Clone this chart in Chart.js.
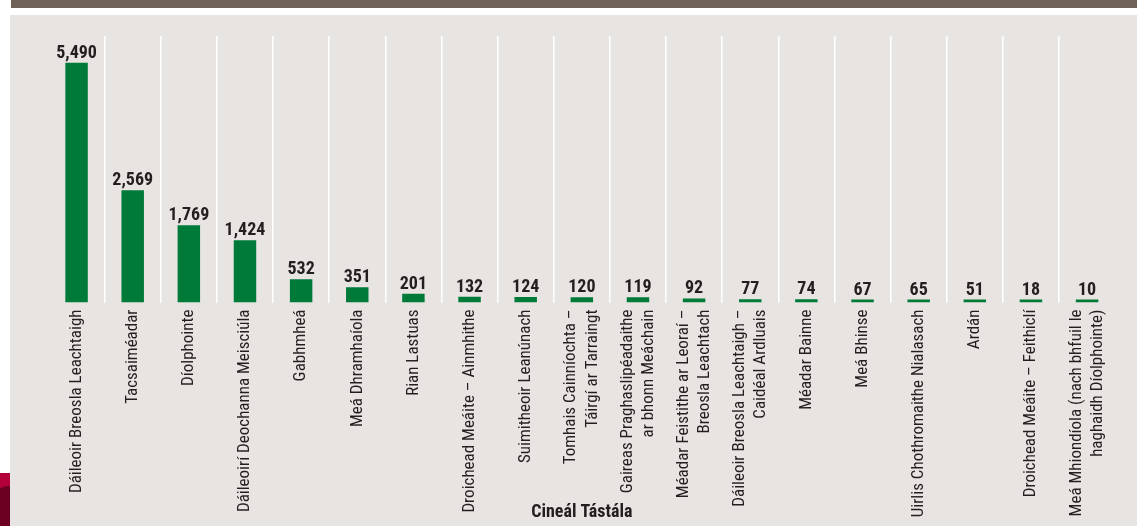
<!DOCTYPE html>
<html>
<head>
<meta charset="utf-8">
<script src="https://cdn.jsdelivr.net/npm/chart.js@4"></script>
<style>
  html, body { margin: 0; padding: 0; background: #fff; }
  body { width: 1137px; height: 526px; position: relative; overflow: hidden; }
  #band { position: absolute; left: 11px; top: 0; width: 1126px; height: 8px; background: #6f6157; }
  #panel { position: absolute; left: 10px; top: 15px; width: 1127px; height: 511px; background: #e8e4e1; }
  #red1 { position: absolute; left: 0; top: 473px; width: 10px; height: 53px; background: #b3003a; }
  #red2 { position: absolute; left: 0; top: 486px; width: 10px; height: 40px; background: #6b0022; border-top-left-radius: 12px 4px; }
  #chart { position: absolute; left: 10px; top: 15px; }
</style>
</head>
<body>
<div id="band"></div>
<div id="red1"></div>
<div id="red2"></div>
<div id="panel"></div>
<canvas id="chart" width="1127" height="511"></canvas>
<script>
// categories (test types) and counts
const categories = [
    'Dáileoir Breosla Leachtaigh',
    'Tacsaiméadar',
    'Díolphointe',
    'Dáileoirí Deochanna Meisciúla',
    'Gabhmheá',
    'Meá Dhramhaíola',
    'Rian Lastuas',
    'Droichead Meáite – Ainmhithe',
    'Suimitheoir Leanúnach',
    ['Tomhais Cainníochta –', 'Táirgí ar Tarraingt'],
    ['Gaireas Praghaslipéadaithe', 'ar bhonn Meáchain'],
    ['Méadar Feistithe ar Leoraí –', 'Breosla Leachtach'],
    ['Dáileoir Breosla Leachtaigh –', 'Caidéal Ardluais'],
    'Méadar Bainne',
    'Meá Bhinse',
    'Uirlis Chothromaithe Nialasach',
    'Ardán',
    'Droichead Meáite – Feithiclí',
    ['Meá Mhiondíola (nach bhfuil le', 'haghaidh Díolphointe)']
];
const values = [5490, 2569, 1769, 1424, 532, 351, 201, 132, 124, 120, 119, 92, 77, 74, 67, 65, 51, 18, 10];
const axisTitle = 'Cineál Tástála';

const FONT = '"Liberation Sans Narrow", "Arial Narrow", "Roboto Condensed", "Open Sans", sans-serif';
const TEXT = '#231f20';
const tickFont = { family: FONT, size: 17, lineHeight: 1.25 };

// centre multi-line rotated tick labels on their bar
const centreLabels = {
    id: 'centreLabels',
    beforeDraw(chart) {
        const sc = chart.scales.x;
        const lh = tickFont.size * tickFont.lineHeight;
        sc.getLabelItems().forEach(it => {
            if (Array.isArray(it.label) && !it._moved) {
                it.options.translation[0] -= (it.label.length - 1) * lh / 2;
                it._moved = true;
            }
        });
    }
};

// value labels above bars
const valueLabels = {
    id: 'valueLabels',
    afterDatasetsDraw(chart) {
        const ctx = chart.ctx;
        const meta = chart.getDatasetMeta(0);
        ctx.save();
        ctx.font = 'bold 18px ' + FONT;
        ctx.fillStyle = TEXT;
        ctx.textAlign = 'center';
        ctx.textBaseline = 'alphabetic';
        meta.data.forEach((bar, i) => {
            ctx.fillText(values[i].toLocaleString('en-US'), bar.x, bar.y - 5);
        });
        ctx.restore();
    }
};

new Chart(document.getElementById('chart'), {
    type: 'bar',
    data: {
        labels: categories,
        datasets: [{
            data: values,
            backgroundColor: '#007a38',
            barPercentage: 0.4,
            categoryPercentage: 1,
            minBarLength: 3
        }]
    },
    options: {
        responsive: false,
        animation: false,
        layout: { padding: { left: 38.5, right: 15.5, top: 21, bottom: 0 } },
        plugins: {
            legend: { display: false },
            tooltip: { enabled: false }
        },
        scales: {
            x: {
                offset: true,
                border: { display: false },
                grid: {
                    offset: true,
                    drawTicks: false,
                    lineWidth: 1.5,
                    color: ctx => (ctx.type === 'tick' && ctx.index > 0) ? '#ffffff' : 'rgba(0,0,0,0)'
                },
                ticks: {
                    autoSkip: false,
                    maxRotation: 90,
                    minRotation: 90,
                    padding: 7,
                    color: TEXT,
                    font: tickFont
                },
                title: {
                    display: true,
                    text: axisTitle,
                    color: TEXT,
                    font: { family: FONT, size: 18, weight: 'bold', lineHeight: 1.2 },
                    padding: { top: 0, bottom: 3 }
                },
                afterFit: s => { s.height = 223.5; }
            },
            y: {
                display: false,
                min: 0,
                max: 6100
            }
        }
    },
    plugins: [centreLabels, valueLabels]
});
</script>
</body>
</html>
